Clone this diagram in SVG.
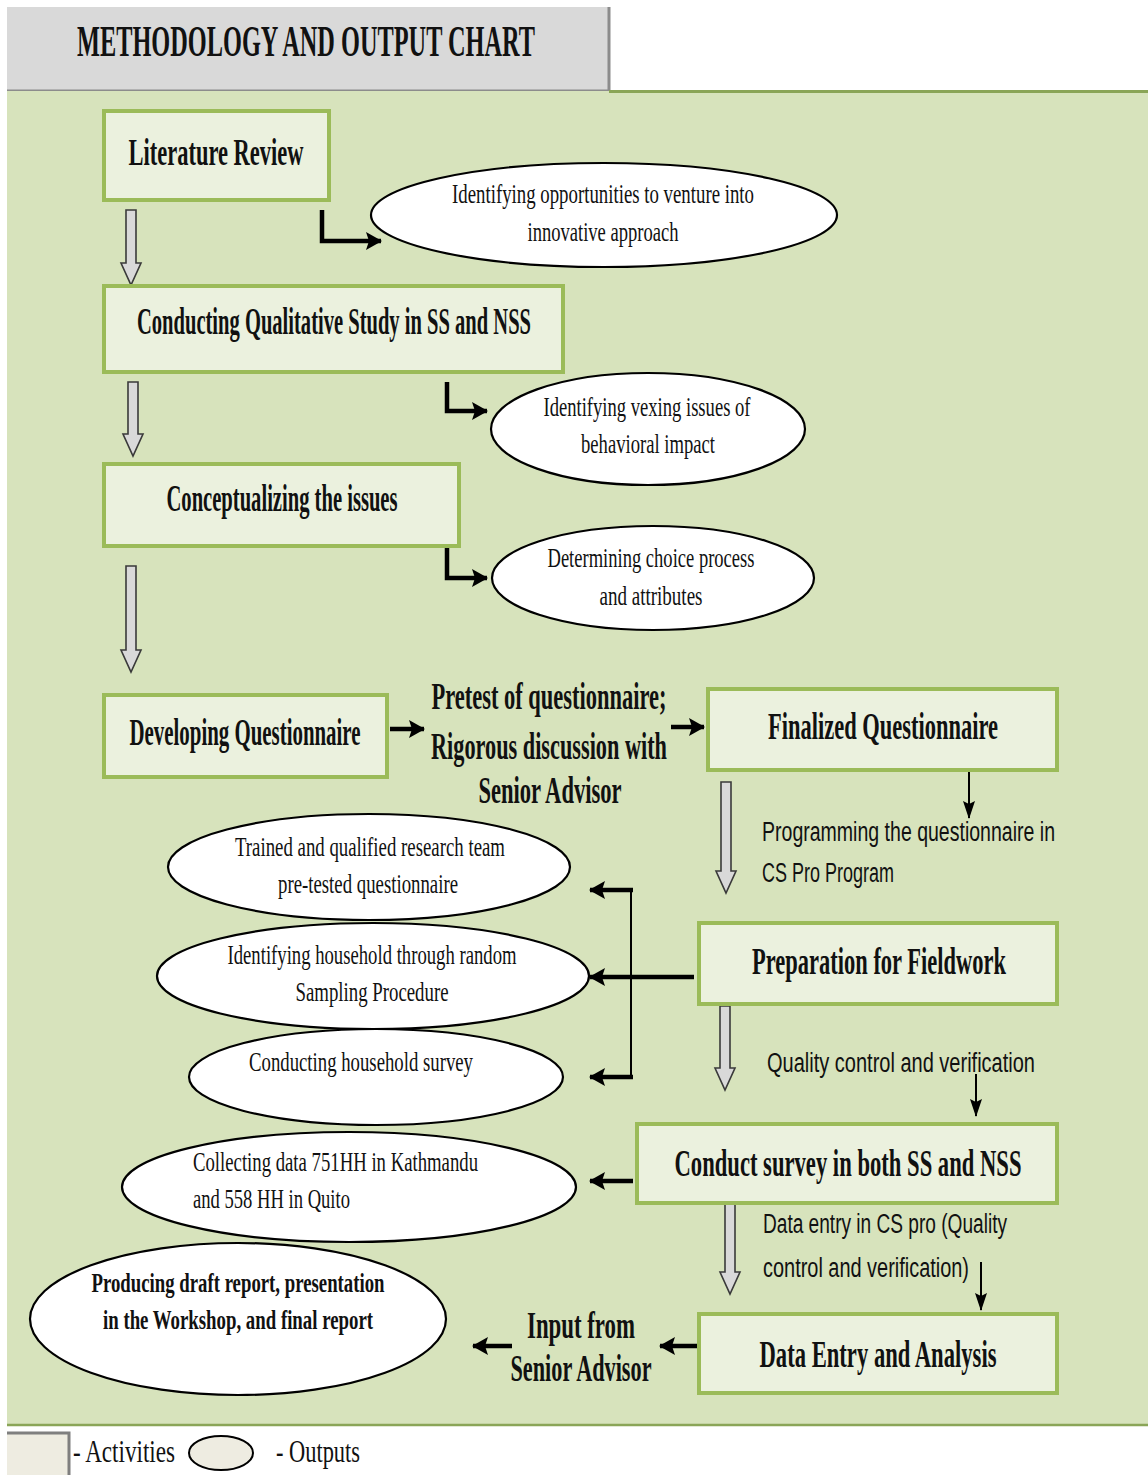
<svg xmlns="http://www.w3.org/2000/svg" width="1148" height="1475" viewBox="0 0 1148 1475">
  <style>
    .act { fill: #ebf1de; stroke: #9bbb59; stroke-width: 4; }
    .out { fill: #ffffff; stroke: #000000; stroke-width: 2.2; }
    .t { font-family: "Liberation Serif", "Times New Roman", serif; fill: #111111; text-anchor: middle; }
    .st { text-anchor: start; }
    .tb { font-size: 37px; font-weight: bold; }
    .te { font-size: 28px; }
    .ts { font-family: "Liberation Sans", Arial, sans-serif; font-size: 27px; fill: #111111; }
    .hollow { fill: #d9d9d9; stroke: #3a3a3a; stroke-width: 1.6; stroke-linejoin: miter; }
    .thick { fill: none; stroke: #000000; stroke-width: 4.5; marker-end: url(#headBig); }
    .thin { fill: none; stroke: #000000; stroke-width: 2; marker-end: url(#headSmall); }
    .bar { fill: none; stroke: #000000; stroke-width: 2; }
  </style>
  <defs>
    <marker id="headBig" markerUnits="userSpaceOnUse" viewBox="0 0 16 18" markerWidth="16" markerHeight="18" refX="15" refY="9" orient="auto">
      <path d="M0,0 L16,9 L0,18 L3,9 z" fill="#000000"/>
    </marker>
    <marker id="headSmall" markerUnits="userSpaceOnUse" viewBox="0 0 18 12" markerWidth="18" markerHeight="12" refX="17" refY="6" orient="auto">
      <path d="M0,0 L18,6 L0,12 L3,6 z" fill="#000000"/>
    </marker>
  </defs>

  <!-- page background -->
  <rect x="0" y="0" width="1148" height="1475" fill="#ffffff"/>

  <!-- title banner -->
  <g id="title">
    <rect x="7" y="7" width="603" height="83" fill="#d9d9d9"/>
    <path d="M609,7 V91 H7" fill="none" stroke="#8c8c8c" stroke-width="3"/>
    <text class="t" x="306" y="56" font-size="44" font-weight="bold" textLength="458" lengthAdjust="spacingAndGlyphs">METHODOLOGY AND OUTPUT CHART</text>
  </g>

  <!-- green panel -->
  <rect x="7" y="91" width="1141" height="1334" fill="#d7e3bc"/>
  <line x1="609" y1="91.5" x2="1148" y2="91.5" stroke="#8aa557" stroke-width="3"/>
  <line x1="7" y1="1425" x2="1148" y2="1425" stroke="#8aa557" stroke-width="2.5"/>

  <!-- connectors -->
  <g id="connectors">
    <!-- hollow flow arrows -->
    <path class="hollow" d="M126,210 H136 V263 L141,263 L131,285 L121,263 L126,263 Z"/>
    <path class="hollow" d="M128,382 H138 V434 L143,434 L133,456 L123,434 L128,434 Z"/>
    <path class="hollow" d="M126,566 H136 V650 L141,650 L131,672 L121,650 L126,650 Z"/>
    <path class="hollow" d="M721,782 H731 V871 L736,871 L726,893 L716,871 L721,871 Z"/>
    <path class="hollow" d="M720,1006 H730 V1068 L735,1068 L725,1090 L715,1068 L720,1068 Z"/>
    <path class="hollow" d="M725,1204 H735 V1272 L740,1272 L730,1294 L720,1272 L725,1272 Z"/>

    <!-- elbow arrows to outputs -->
    <path class="thick" d="M322,210 V241 H381"/>
    <path class="thick" d="M447,382 V411 H487"/>
    <path class="thick" d="M447,547 V578 H487"/>

    <!-- questionnaire row -->
    <path class="thick" d="M390,729 H424"/>
    <path class="thick" d="M671,727 H704"/>

    <!-- thin arrows to notes -->
    <path class="thin" d="M969,772 V818"/>
    <path class="thin" d="M976,1074 V1116"/>
    <path class="thin" d="M981,1262 V1310"/>

    <!-- fieldwork fan-out -->
    <line class="bar" x1="631" y1="889" x2="631" y2="1078"/>
    <path class="thick" d="M633,890 H590"/>
    <path class="thick" d="M694,977 H590"/>
    <path class="thick" d="M633,1077 H590"/>

    <!-- survey and analysis -->
    <path class="thick" d="M633,1181 H590"/>
    <path class="thick" d="M697,1346 H660"/>
    <path class="thick" d="M512,1346 H473"/>
  </g>

  <!-- activities -->
  <g id="literature-review">
    <rect class="act" x="104" y="111" width="225" height="89"/>
    <text class="t tb" x="216" y="165" font-size="39" textLength="175" lengthAdjust="spacingAndGlyphs">Literature Review</text>
  </g>
  <g id="qualitative-study">
    <rect class="act" x="104" y="286" width="459" height="86"/>
    <text class="t tb" x="334" y="334" textLength="394" lengthAdjust="spacingAndGlyphs">Conducting Qualitative Study in SS and NSS</text>
  </g>
  <g id="conceptualizing">
    <rect class="act" x="104" y="464" width="355" height="82"/>
    <text class="t tb" x="282" y="511" font-size="35" textLength="231" lengthAdjust="spacingAndGlyphs">Conceptualizing the issues</text>
  </g>
  <g id="developing-questionnaire">
    <rect class="act" x="104" y="695" width="283" height="82"/>
    <text class="t tb" x="245" y="745" font-size="35" textLength="231" lengthAdjust="spacingAndGlyphs">Developing Questionnaire</text>
  </g>
  <g id="pretest">
    <text class="t tb" x="549" y="709" font-size="34" textLength="235" lengthAdjust="spacingAndGlyphs">Pretest of questionnaire;</text>
    <text class="t tb" x="549" y="759" font-size="34" textLength="236" lengthAdjust="spacingAndGlyphs">Rigorous discussion with</text>
    <text class="t tb" x="550" y="803" font-size="34" textLength="143" lengthAdjust="spacingAndGlyphs">Senior Advisor</text>
  </g>
  <g id="finalized-questionnaire">
    <rect class="act" x="708" y="689" width="349" height="81"/>
    <text class="t tb" x="883" y="739" font-size="38" textLength="230" lengthAdjust="spacingAndGlyphs">Finalized Questionnaire</text>
  </g>
  <g id="programming-note">
    <text class="ts" x="762" y="841" textLength="293" lengthAdjust="spacingAndGlyphs">Programming the questionnaire in</text>
    <text class="ts" x="762" y="882" textLength="132" lengthAdjust="spacingAndGlyphs">CS Pro Program</text>
  </g>
  <g id="preparation-fieldwork">
    <rect class="act" x="699" y="923" width="358" height="81"/>
    <text class="t tb" x="879" y="974" font-size="38" textLength="254" lengthAdjust="spacingAndGlyphs">Preparation for Fieldwork</text>
  </g>
  <g id="quality-note">
    <text class="ts" x="767" y="1072" textLength="268" lengthAdjust="spacingAndGlyphs">Quality control and verification</text>
  </g>
  <g id="conduct-survey">
    <rect class="act" x="637" y="1124" width="420" height="79"/>
    <text class="t tb" x="848" y="1176" font-size="38" textLength="347" lengthAdjust="spacingAndGlyphs">Conduct survey in both SS and NSS</text>
  </g>
  <g id="data-entry-note">
    <text class="ts" x="763" y="1233" textLength="244" lengthAdjust="spacingAndGlyphs">Data entry in CS pro (Quality</text>
    <text class="ts" x="763" y="1277" textLength="206" lengthAdjust="spacingAndGlyphs">control and verification)</text>
  </g>
  <g id="data-entry-analysis">
    <rect class="act" x="699" y="1314" width="358" height="79"/>
    <text class="t tb" x="878" y="1367" font-size="38" textLength="237" lengthAdjust="spacingAndGlyphs">Data Entry and Analysis</text>
  </g>
  <g id="input-senior-advisor">
    <text class="t tb" x="581" y="1338" font-size="35" textLength="108" lengthAdjust="spacingAndGlyphs">Input from</text>
    <text class="t tb" x="581" y="1381" font-size="35" textLength="141" lengthAdjust="spacingAndGlyphs">Senior Advisor</text>
  </g>

  <!-- outputs -->
  <g id="out-opportunities">
    <ellipse class="out" cx="604" cy="215" rx="233" ry="52"/>
    <text class="t te" x="603" y="203" textLength="302" lengthAdjust="spacingAndGlyphs">Identifying opportunities to venture into</text>
    <text class="t te" x="603" y="241" textLength="151" lengthAdjust="spacingAndGlyphs">innovative approach</text>
  </g>
  <g id="out-vexing-issues">
    <ellipse class="out" cx="648" cy="429" rx="157" ry="56"/>
    <text class="t te" x="647" y="416" textLength="207" lengthAdjust="spacingAndGlyphs">Identifying vexing issues of</text>
    <text class="t te" x="648" y="453" textLength="134" lengthAdjust="spacingAndGlyphs">behavioral impact</text>
  </g>
  <g id="out-choice-process">
    <ellipse class="out" cx="653" cy="578" rx="161" ry="52"/>
    <text class="t te" x="651" y="567" textLength="207" lengthAdjust="spacingAndGlyphs">Determining choice process</text>
    <text class="t te" x="651" y="605" textLength="103" lengthAdjust="spacingAndGlyphs">and attributes</text>
  </g>
  <g id="out-research-team">
    <ellipse class="out" cx="369" cy="867" rx="201" ry="53"/>
    <text class="t te" x="370" y="856" textLength="270" lengthAdjust="spacingAndGlyphs">Trained and qualified research team</text>
    <text class="t te" x="368" y="893" textLength="180" lengthAdjust="spacingAndGlyphs">pre-tested questionnaire</text>
  </g>
  <g id="out-sampling">
    <ellipse class="out" cx="373" cy="976" rx="216" ry="53"/>
    <text class="t te" x="372" y="964" textLength="289" lengthAdjust="spacingAndGlyphs">Identifying household through random</text>
    <text class="t te" x="372" y="1001" textLength="153" lengthAdjust="spacingAndGlyphs">Sampling Procedure</text>
  </g>
  <g id="out-household-survey">
    <ellipse class="out" cx="376" cy="1077" rx="187" ry="48"/>
    <text class="t te" x="361" y="1071" textLength="224" lengthAdjust="spacingAndGlyphs">Conducting household survey</text>
  </g>
  <g id="out-data-collection">
    <ellipse class="out" cx="349" cy="1187" rx="227" ry="55"/>
    <text class="t te st" x="193" y="1171" textLength="285" lengthAdjust="spacingAndGlyphs">Collecting data 751HH in Kathmandu</text>
    <text class="t te st" x="193" y="1208" textLength="157" lengthAdjust="spacingAndGlyphs">and 558 HH in Quito</text>
  </g>
  <g id="out-reports">
    <ellipse class="out" cx="238" cy="1319" rx="208" ry="76"/>
    <text class="t te" x="238" y="1292" font-weight="bold" textLength="293" lengthAdjust="spacingAndGlyphs">Producing draft report, presentation</text>
    <text class="t te" x="238" y="1329" font-weight="bold" textLength="270" lengthAdjust="spacingAndGlyphs">in the Workshop, and final report</text>
  </g>

  <!-- legend -->
  <g id="legend">
    <rect x="7" y="1432" width="62" height="43" fill="#eeece1"/>
    <path d="M7,1433 H69 V1475" fill="none" stroke="#7f7f7f" stroke-width="3"/>
    <text class="t st" x="73" y="1462" font-size="32" textLength="102" lengthAdjust="spacingAndGlyphs">- Activities</text>
    <ellipse cx="221" cy="1453" rx="32" ry="17" fill="#eeece1" stroke="#000000" stroke-width="2"/>
    <text class="t st" x="276" y="1462" font-size="32" textLength="84" lengthAdjust="spacingAndGlyphs">- Outputs</text>
  </g>
</svg>
